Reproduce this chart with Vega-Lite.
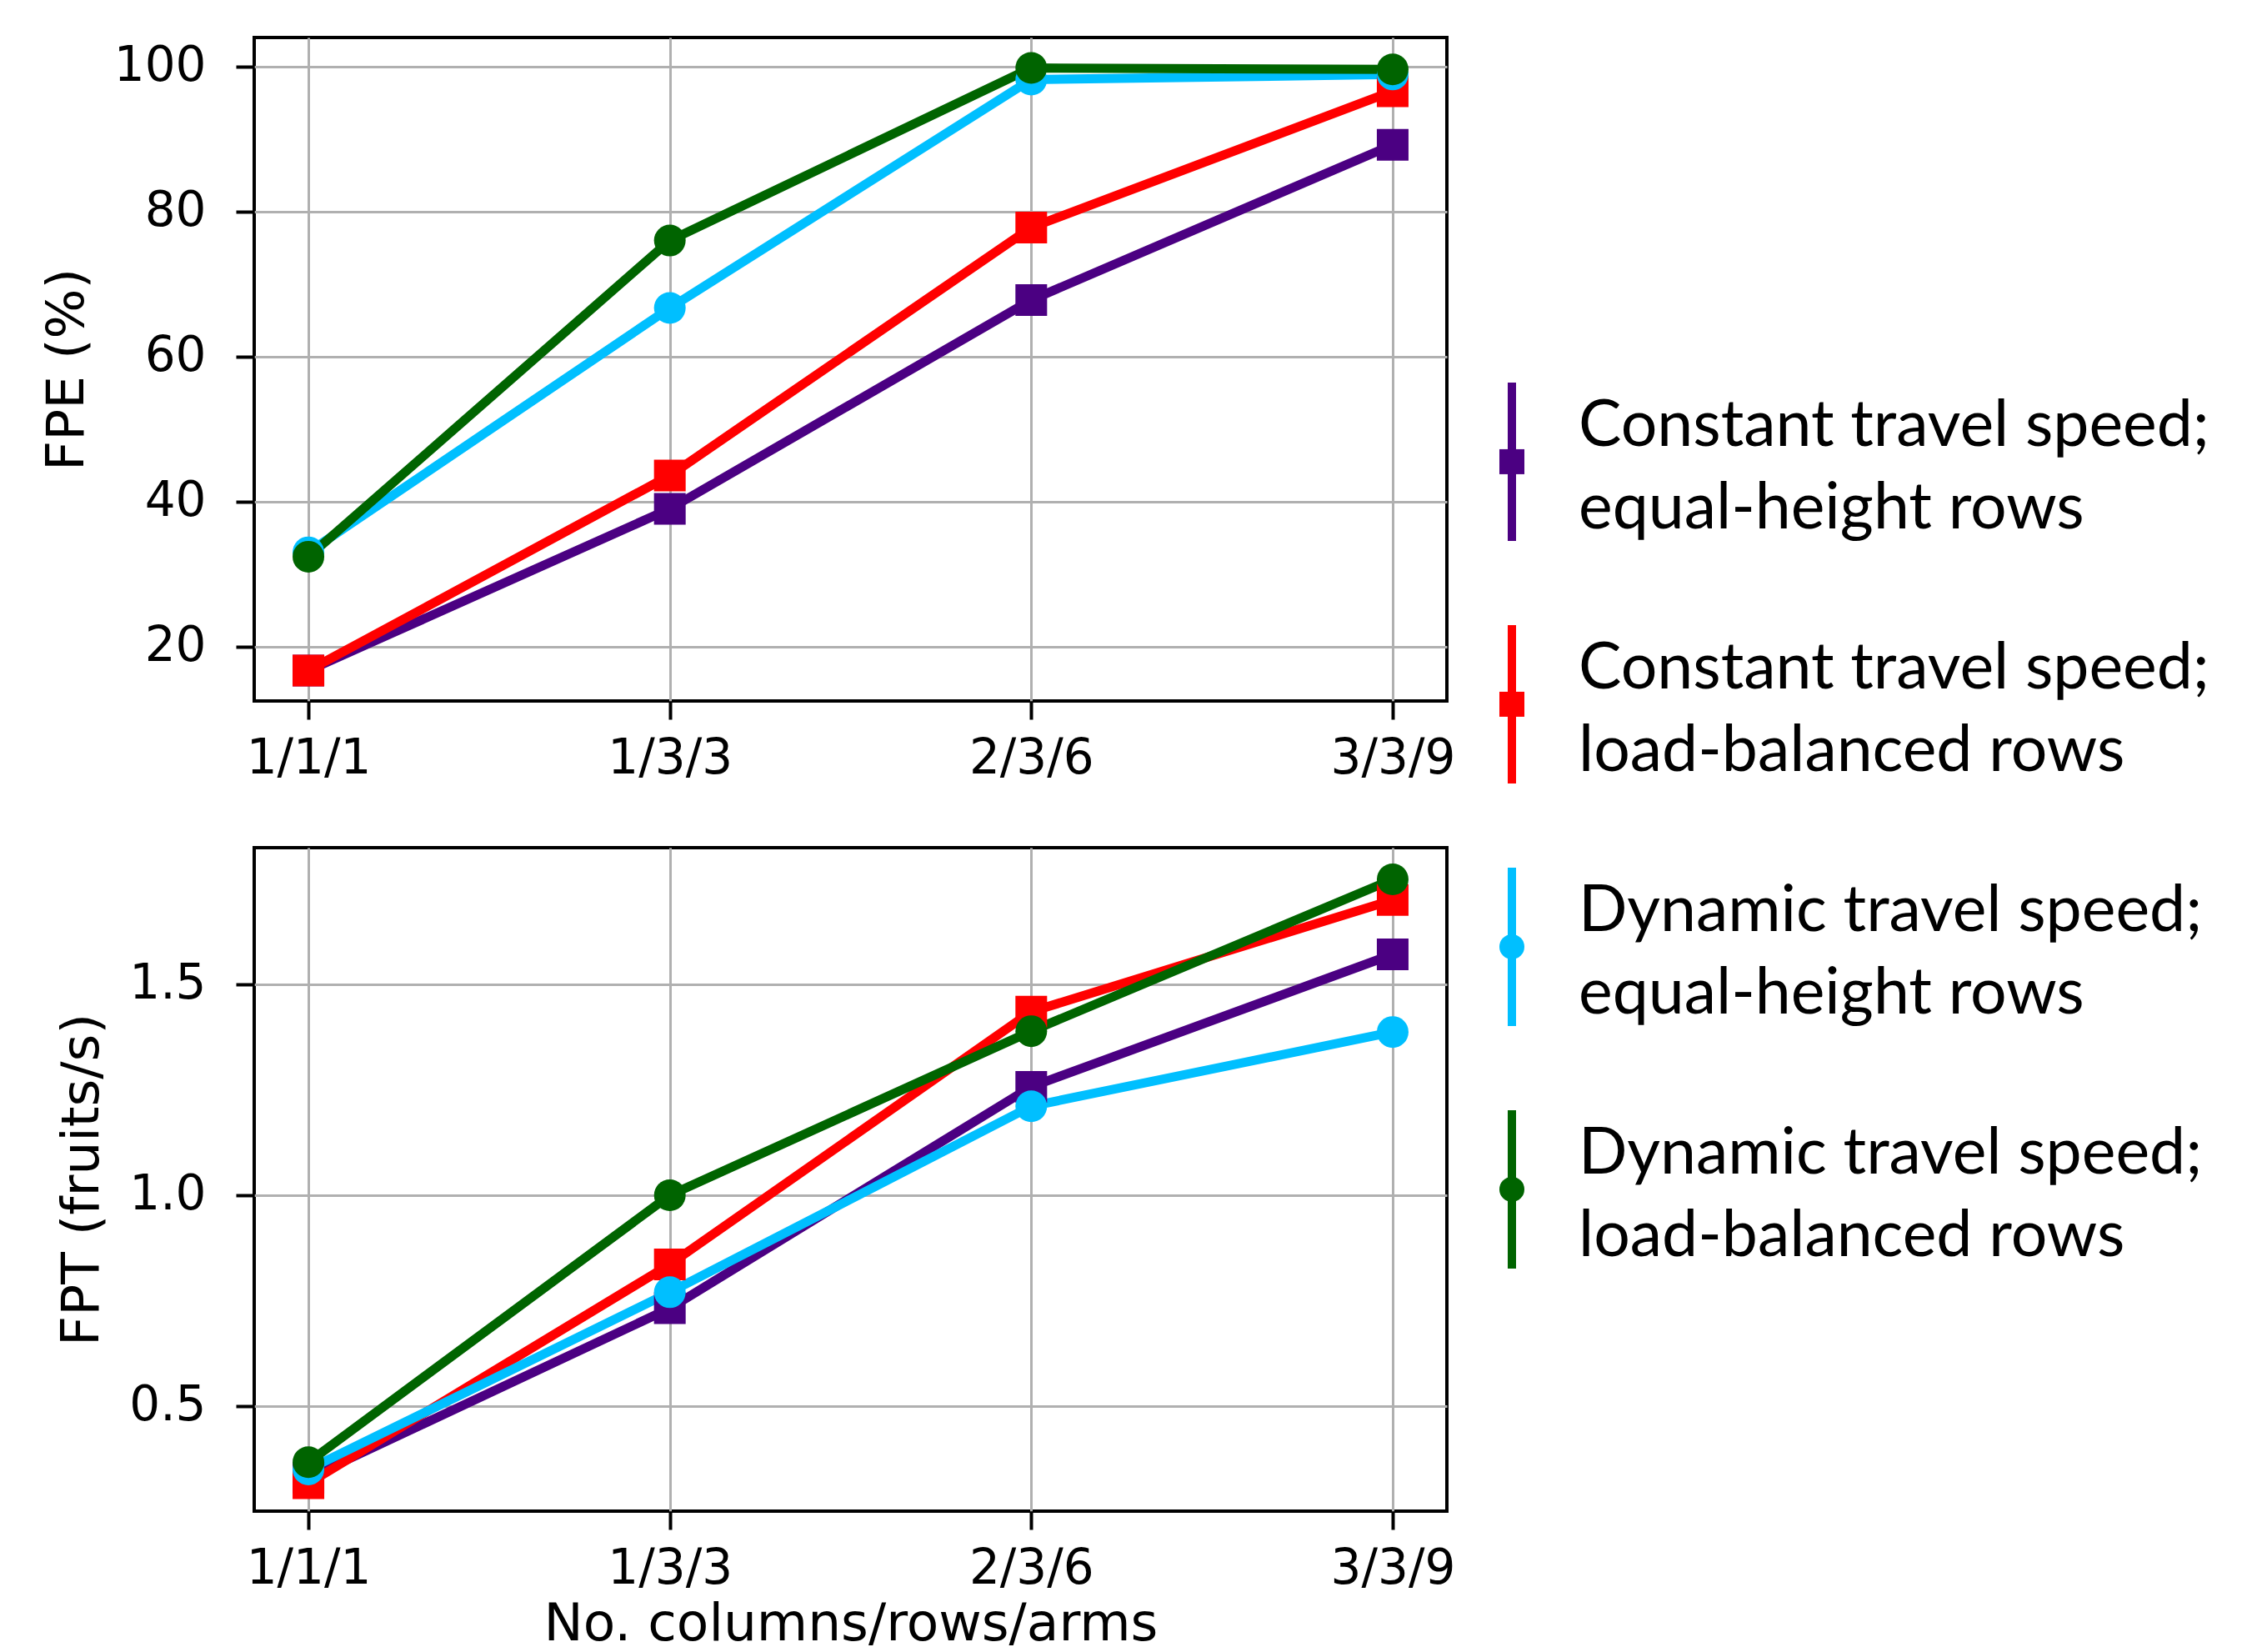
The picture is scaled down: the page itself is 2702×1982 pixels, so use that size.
{
  "$schema": "https://vega.github.io/schema/vega-lite/v6.json",
  "background": "white",
  "padding": {"left": 47, "top": 43, "right": 0, "bottom": 0},
  "datasets": {
    "main": [
      {"series": "CE", "cfg": "1/1/1", "fpe": 16.7, "fpt": 0.33},
      {"series": "CE", "cfg": "1/3/3", "fpe": 39.0, "fpt": 0.732},
      {"series": "CE", "cfg": "2/3/6", "fpe": 67.8, "fpt": 1.257},
      {"series": "CE", "cfg": "3/3/9", "fpe": 89.2, "fpt": 1.571},
      {"series": "CL", "cfg": "1/1/1", "fpe": 16.7, "fpt": 0.317},
      {"series": "CL", "cfg": "1/3/3", "fpe": 43.6, "fpt": 0.836},
      {"series": "CL", "cfg": "2/3/6", "fpe": 77.8, "fpt": 1.435},
      {"series": "CL", "cfg": "3/3/9", "fpe": 96.6, "fpt": 1.70},
      {"series": "DE", "cfg": "1/1/1", "fpe": 33.0, "fpt": 0.35},
      {"series": "DE", "cfg": "1/3/3", "fpe": 66.7, "fpt": 0.770},
      {"series": "DE", "cfg": "2/3/6", "fpe": 98.2, "fpt": 1.211},
      {"series": "DE", "cfg": "3/3/9", "fpe": 98.9, "fpt": 1.387},
      {"series": "DL", "cfg": "1/1/1", "fpe": 32.4, "fpt": 0.367},
      {"series": "DL", "cfg": "1/3/3", "fpe": 76.0, "fpt": 1.0},
      {"series": "DL", "cfg": "2/3/6", "fpe": 99.8, "fpt": 1.389},
      {"series": "DL", "cfg": "3/3/9", "fpe": 99.6, "fpt": 1.749}
    ],
    "leg": [
      {"series": "CE", "order": 1, "label": "Constant travel speed;\nequal-height rows"},
      {"series": "CL", "order": 2, "label": "Constant travel speed;\nload-balanced rows"},
      {"series": "DE", "order": 3, "label": "Dynamic travel speed;\nequal-height rows"},
      {"series": "DL", "order": 4, "label": "Dynamic travel speed;\nload-balanced rows"}
    ]
  },
  "config": {
    "font": "DejaVu Sans",
    "view": {"stroke": "black", "strokeWidth": 4},
    "axis": {
      "domain": false,
      "tickColor": "black",
      "tickSize": 22,
      "tickWidth": 4,
      "labelFont": "DejaVu Sans",
      "labelFontSize": 58,
      "labelColor": "black",
      "labelPadding": 18,
      "labelFlush": false,
      "titleFont": "DejaVu Sans",
      "titleFontSize": 63,
      "titleFontWeight": "normal",
      "titleColor": "black",
      "gridColor": "#b0b0b0",
      "gridWidth": 3,
      "gridOpacity": 1
    },
    "axisY": {"labelPadding": 36, "titlePadding": 24},
    "axisX": {"titlePadding": 6, "labelAngle": 0}
  },
  "resolve": {"scale": {"size": "independent"}},
  "spacing": 51,
  "hconcat": [
    {
      "spacing": 74,
      "vconcat": [
        {
          "width": 1431,
          "height": 796,
          "data": {"name": "main"},
          "encoding": {
            "x": {"field": "cfg", "type": "ordinal", "sort": ["1/1/1", "1/3/3", "2/3/6", "3/3/9"], "scale": {"type": "point", "padding": 0.15}, "axis": {"title": null, "grid": true}},
            "y": {"field": "fpe", "type": "quantitative", "scale": {"domain": [12.5, 104], "nice": false, "zero": false}, "axis": {"title": "FPE (%)", "values": [20, 40, 60, 80, 100], "grid": true}},
            "color": {"field": "series", "type": "nominal", "scale": {"domain": ["CE", "CL", "DE", "DL"], "range": ["#4B0082", "#FF0000", "#00BFFF", "#006400"]}, "legend": null}
          },
          "layer": [
            {"mark": {"type": "line", "strokeWidth": 11}},
            {"mark": {"type": "point", "filled": true, "opacity": 1},
             "encoding": {
               "shape": {"field": "series", "type": "nominal", "scale": {"domain": ["CE", "CL", "DE", "DL"], "range": ["square", "square", "circle", "circle"]}, "legend": null},
               "size": {"field": "series", "type": "nominal", "scale": {"domain": ["CE", "CL", "DE", "DL"], "range": [1444, 1444, 961, 961]}, "legend": null}
             }}
          ]
        },
        {
          "width": 1431,
          "height": 796,
          "data": {"name": "main"},
          "encoding": {
            "x": {"field": "cfg", "type": "ordinal", "sort": ["1/1/1", "1/3/3", "2/3/6", "3/3/9"], "scale": {"type": "point", "padding": 0.15}, "axis": {"title": "No. columns/rows/arms", "grid": true}},
            "y": {"field": "fpt", "type": "quantitative", "scale": {"domain": [0.251, 1.824], "nice": false, "zero": false}, "axis": {"title": "FPT (fruits/s)", "values": [0.5, 1.0, 1.5], "format": ".1f", "grid": true}},
            "color": {"field": "series", "type": "nominal", "scale": {"domain": ["CE", "CL", "DE", "DL"], "range": ["#4B0082", "#FF0000", "#00BFFF", "#006400"]}, "legend": null}
          },
          "layer": [
            {"mark": {"type": "line", "strokeWidth": 11}},
            {"mark": {"type": "point", "filled": true, "opacity": 1},
             "encoding": {
               "shape": {"field": "series", "type": "nominal", "scale": {"domain": ["CE", "CL", "DE", "DL"], "range": ["square", "square", "circle", "circle"]}, "legend": null},
               "size": {"field": "series", "type": "nominal", "scale": {"domain": ["CE", "CL", "DE", "DL"], "range": [1444, 1444, 961, 961]}, "legend": null}
             }}
          ]
        }
      ]
    },
    {
      "width": 860,
      "height": 1766,
      "view": {"stroke": null},
      "data": {"name": "leg"},
      "encoding": {
        "y": {"field": "order", "type": "quantitative", "scale": {"domain": [-0.749, 5.32], "reverse": true, "nice": false, "zero": false}, "axis": null},
        "x": {"datum": 0, "type": "quantitative", "scale": {"domain": [0, 1]}, "axis": null}
      },
      "layer": [
        {"mark": {"type": "tick", "orient": "vertical", "thickness": 10, "size": 190, "opacity": 1},
         "encoding": {"color": {"field": "series", "type": "nominal", "legend": null}}},
        {"mark": {"type": "point", "filled": true, "opacity": 1},
         "encoding": {
           "color": {"field": "series", "type": "nominal", "legend": null},
           "shape": {"field": "series", "type": "nominal", "legend": null},
           "size": {"field": "series", "type": "nominal", "scale": {"domain": ["CE", "CL", "DE", "DL"], "range": [900, 900, 576, 576]}, "legend": null}
         }},
        {"mark": {"type": "text", "align": "left", "baseline": "alphabetic", "dx": 80, "dy": -19, "font": "Lato", "fontSize": 77, "lineHeight": 99, "lineBreak": "\n", "color": "black"},
         "encoding": {"text": {"field": "label"}}}
      ]
    }
  ]
}
